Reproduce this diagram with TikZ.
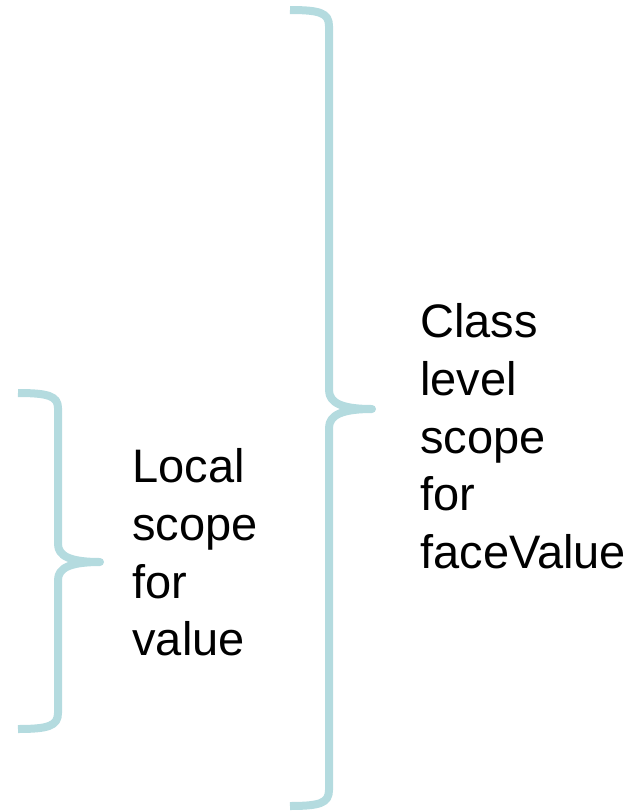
\documentclass[tikz,border=0pt]{standalone}
\usepackage{fontspec}
\setmainfont{Liberation Sans}
\usepackage{tikz}

\definecolor{bracecol}{RGB}{180,219,223}

\tikzset{
    brace/.style={line width=4pt, bracecol, line join=round},
    label/.style={anchor=north west, inner sep=0pt, align=left, text=black,
        font=\fontsize{23.5}{28.9}\selectfont}
}

\begin{document}
\begin{tikzpicture}[x=0.5pt, y=-0.5pt]
    % MARGES DEL DIBUIX
    \useasboundingbox (0,0) rectangle (642,811);

    % CLAU GRAN (ambit de classe)
    \coordinate (bigtip) at (372,409);
    \draw[brace] (290,10) .. controls (320,10) and (329,13) .. (329,26) -- (329,390)
        .. controls (329,403) and (342,409) .. (bigtip)
        .. controls (342,409) and (329,415) .. (329,428) -- (329,790)
        .. controls (329,803) and (320,806) .. (290,806);

    % CLAU PETITA (ambit local)
    \coordinate (smalltip) at (100,562);
    \draw[brace] (18,393) .. controls (48,393) and (58,396) .. (58,408) -- (58,544)
        .. controls (58,556) and (70,562) .. (smalltip)
        .. controls (70,562) and (58,568) .. (58,580) -- (58,713)
        .. controls (58,726) and (48,729) .. (18,729);

    % TEXTOS
    \node[label] (local) at (132,448) {Local\\scope\\for\\value};
    \node[label] (class) at (420,303) {Class\\level\\scope\\for\\faceValue};
\end{tikzpicture}
\end{document}
